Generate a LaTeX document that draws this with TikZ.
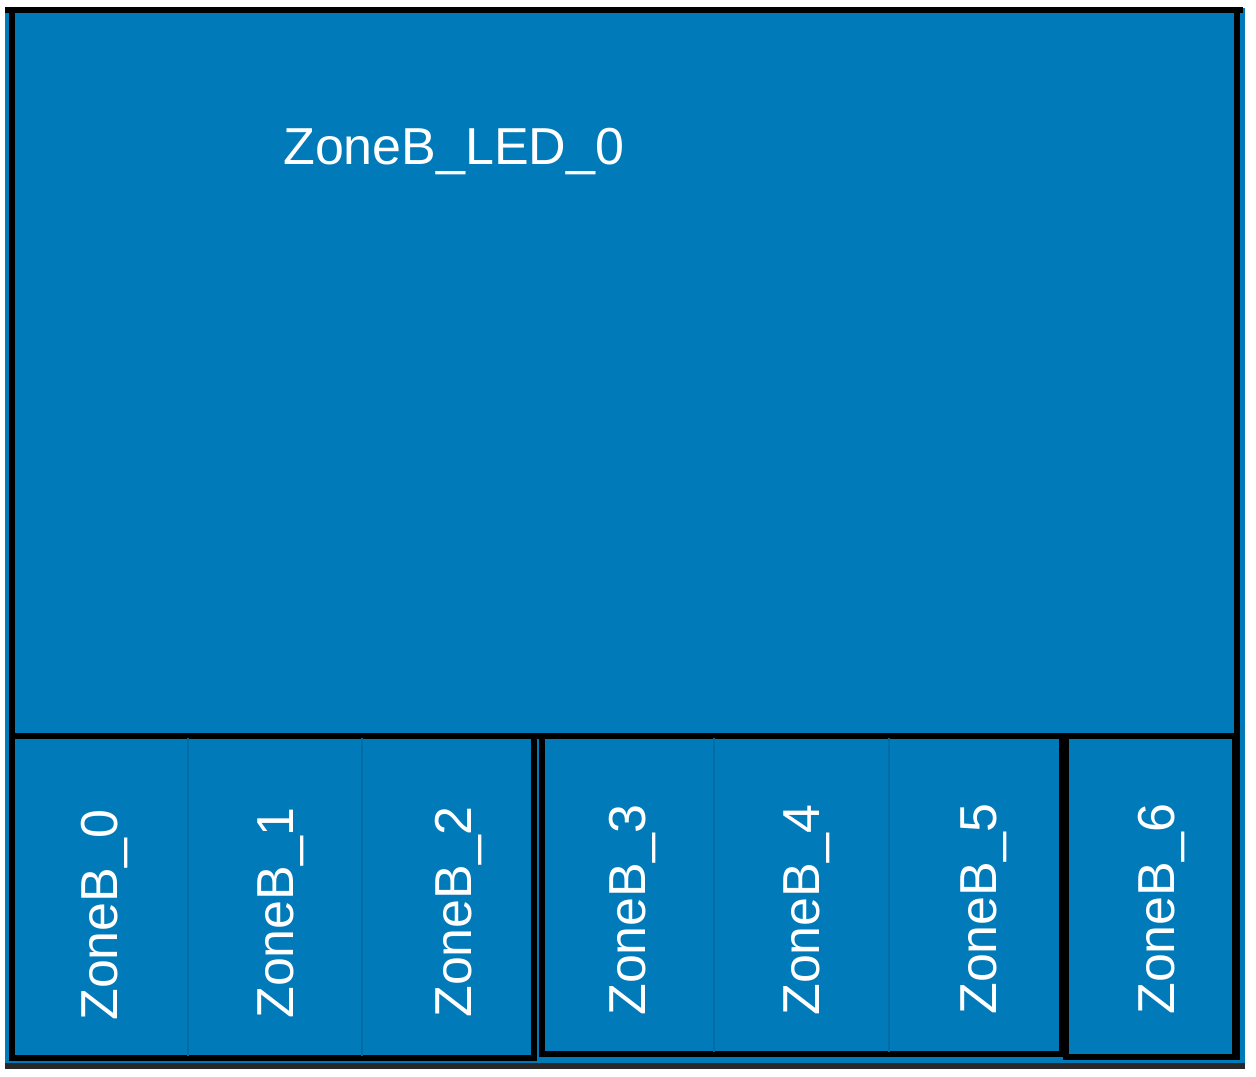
\documentclass[tikz,border=0pt]{standalone}
\usepackage{fontspec}
\setmainfont{Liberation Sans}
\definecolor{zblue}{RGB}{0,122,184}
\definecolor{zdiv}{RGB}{0,108,166}
\definecolor{zdark}{RGB}{40,40,40}
\begin{document}
\begin{tikzpicture}[x=0.75pt,y=-0.75pt,
  frame/.style={line width=4pt,draw=black},
  grp/.style={line width=4pt,draw=black},
  divider/.style={line width=1.2pt,draw=zdiv},
  lbl/.style={text=white,inner sep=0pt,font=\fontsize{39}{41}\selectfont},
  vlbl/.style={lbl,rotate=90,anchor=base west}]
\useasboundingbox[fill=white] (0,0) rectangle (1256,1076);
% panel
\fill[zblue] (5,8) rectangle (1245,1068);
\draw[line width=4pt,draw=zdark] (5,1066) -- (1245,1066);
\draw[frame] (5,10) -- (1243,10);
\draw[frame] (12,10) -- (12,1060);
\draw[frame] (1237,10) -- (1237,1060);
\draw[frame] (12,736) -- (1237,736);
% groups
\draw[grp] (12,736) rectangle (534,1058);
\draw[grp] (542,736) rectangle (1062,1054);
\draw[grp] (1066,736) rectangle (1235,1057);
% faint dividers
\coordinate (d1t) at (188,738); \coordinate (d1b) at (188,1056);
\coordinate (d2t) at (362,738); \coordinate (d2b) at (362,1056);
\coordinate (d3t) at (714,738); \coordinate (d3b) at (714,1052);
\coordinate (d4t) at (889,738); \coordinate (d4b) at (889,1052);
\draw[divider] (d1t) -- (d1b);
\draw[divider] (d2t) -- (d2b);
\draw[divider] (d3t) -- (d3b);
\draw[divider] (d4t) -- (d4b);
% labels
\node[lbl,anchor=base west] (led) at (283,164) {ZoneB\_LED\_0};
\node[vlbl] (z0) at (117,1021) {ZoneB\_0};
\node[vlbl] (z1) at (293,1019) {ZoneB\_1};
\node[vlbl] (z2) at (471,1018) {ZoneB\_2};
\node[vlbl] (z3) at (645,1016) {ZoneB\_3};
\node[vlbl] (z4) at (819,1016) {ZoneB\_4};
\node[vlbl] (z5) at (996,1015) {ZoneB\_5};
\node[vlbl] (z6) at (1174,1015) {ZoneB\_6};
\end{tikzpicture}
\end{document}
